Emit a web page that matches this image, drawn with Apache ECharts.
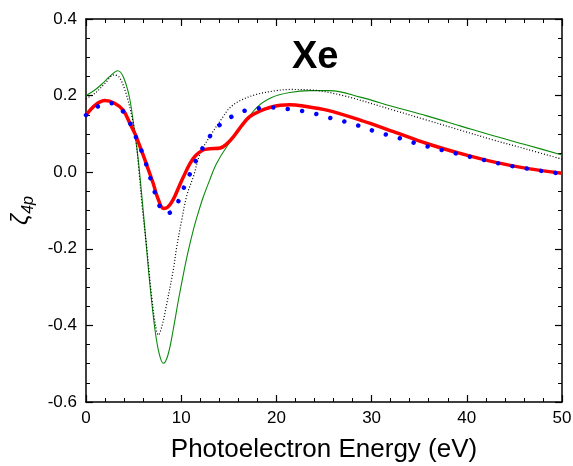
<!DOCTYPE html>
<html>
<head>
<meta charset="utf-8">
<script src="https://cdn.jsdelivr.net/npm/echarts@6/dist/echarts.min.js"></script>
<style>
  html, body { margin: 0; padding: 0; background: #fff; }
  #chart { width: 573px; height: 466px; }
</style>
</head>
<body>
<div id="chart"></div>
<script>
// Photoelectron energy grid (eV) and zeta_4p values for each calculation
const thinGreenE = [0, 1.0, 1.75, 2.5, 3.33, 3.9, 4.55, 5.08, 5.5, 6.1, 6.7, 7.25, 7.7, 8.12, 8.6, 9.17, 9.7, 10.2, 10.7, 11.27, 11.8, 12.3, 13.0, 13.7, 14.8, 16.2, 17.9, 19.5, 21.4, 23.5, 25.6, 28.8, 32.3, 35.8, 39.3, 42.8, 46.3, 50];
const thinGreenZ = [0.200, 0.216, 0.232, 0.250, 0.265, 0.250, 0.197, 0.110, 0.030, -0.125, -0.290, -0.412, -0.475, -0.499, -0.478, -0.410, -0.335, -0.270, -0.210, -0.151, -0.105, -0.066, -0.020, 0.022, 0.067, 0.112, 0.168, 0.195, 0.208, 0.213, 0.213, 0.196, 0.171, 0.147, 0.121, 0.095, 0.071, 0.045];

const dotBlackE = [0, 1.0, 2.0, 2.97, 3.5, 4.2, 4.9, 5.25, 5.5, 5.9, 6.37, 6.9, 7.3, 7.6, 8.0, 8.47, 9.17, 9.5, 10.05, 10.6, 11.3, 12.0, 13.0, 14.4, 15.1, 16.2, 17.9, 20.0, 21.4, 23.5, 27.0, 32.3, 35.8, 39.3, 42.8, 46.3, 50];
const dotBlackZ = [0.192, 0.207, 0.232, 0.254, 0.248, 0.206, 0.136, 0.084, 0.020, -0.090, -0.195, -0.325, -0.400, -0.425, -0.400, -0.345, -0.255, -0.200, -0.125, -0.060, -0.010, 0.049, 0.093, 0.145, 0.168, 0.187, 0.203, 0.213, 0.216, 0.215, 0.200, 0.162, 0.136, 0.110, 0.084, 0.060, 0.034];

const thickRedE = [0, 1.0, 2.0, 3.0, 3.9, 4.6, 5.15, 6.0, 6.5, 7.07, 7.5, 8.15, 8.6, 9.17, 9.87, 10.2, 10.9, 11.5, 12.3, 13.0, 14.1, 14.7, 15.5, 16.3, 17.2, 18.3, 19.3, 20.4, 21.4, 23.0, 25.3, 28.8, 32.3, 35.8, 39.3, 42.8, 46.3, 50];
const thickRedZ = [0.149, 0.176, 0.187, 0.180, 0.162, 0.128, 0.100, 0.045, 0.010, -0.030, -0.065, -0.095, -0.091, -0.071, -0.032, -0.014, 0.022, 0.043, 0.058, 0.061, 0.063, 0.072, 0.093, 0.120, 0.145, 0.160, 0.169, 0.175, 0.176, 0.172, 0.162, 0.136, 0.106, 0.075, 0.049, 0.027, 0.010, -0.003];

const blueDotE = [0, 1.5, 2.8, 4.0, 4.8, 5.5, 6.0, 6.5, 7.0, 7.6, 8.1, 8.6, 9.45, 10.1, 10.75, 11.4, 12.2, 13.2, 14.3, 15.3, 16.6, 18.1, 19.7, 21.2, 22.7, 24.2, 25.6, 27.2, 28.7, 30.2, 31.7, 33.2, 34.7, 36.2, 37.7, 39.2, 40.7, 42.3, 43.7, 45.2, 46.7, 48.2, 50];
const blueDotZ = [0.149, 0.175, 0.180, 0.155, 0.119, 0.075, 0.045, 0.006, -0.035, -0.080, -0.105, -0.107, -0.088, -0.051, -0.014, 0.023, 0.061, 0.100, 0.129, 0.145, 0.160, 0.167, 0.169, 0.165, 0.160, 0.152, 0.142, 0.132, 0.121, 0.108, 0.097, 0.087, 0.075, 0.065, 0.056, 0.047, 0.038, 0.029, 0.021, 0.014, 0.008, 0.002, -0.004];

const xTicks = { min: 0, max: 50, step: 10, minorSplit: 5 };
const yTicks = { min: -0.6, max: 0.4, step: 0.2, minorSplit: 4 };

const pairs = (xs, ys) => xs.map((x, i) => [x, ys[i]]);

const FONT = 'Liberation Sans, Arial, sans-serif';

function frameAxis(base, withLabels) {
  return Object.assign({
    type: 'value',
    axisLine: { show: true, onZero: false, lineStyle: { color: '#000', width: 1.5 } },
    axisTick: { show: true, inside: true, length: 7, lineStyle: { color: '#000', width: 1.2 } },
    minorTick: { show: true, length: 4, lineStyle: { color: '#000', width: 1 } },
    splitLine: { show: false },
    axisLabel: withLabels
      ? { show: true, color: '#000', fontFamily: FONT, fontSize: 17 }
      : { show: false }
  }, base);
}

const chart = echarts.init(document.getElementById('chart'), null, { renderer: 'canvas' });

chart.setOption({
  animation: false,
  backgroundColor: '#fff',
  grid: { left: 86, right: 11, top: 19, bottom: 64, containLabel: false, outerBoundsMode: 'none' },
  title: {
    text: 'Xe',
    left: 287, top: 34,
    textStyle: { fontFamily: FONT, fontWeight: 'bold', fontSize: 38, color: '#000' }
  },
  xAxis: [
    frameAxis({
      position: 'bottom', min: xTicks.min, max: xTicks.max, interval: xTicks.step,
      minorTick: { show: true, splitNumber: xTicks.minorSplit, length: 4, lineStyle: { color: '#000', width: 1 } },
      name: 'Photoelectron Energy (eV)', nameLocation: 'middle', nameGap: 35,
      nameTextStyle: { fontFamily: FONT, fontSize: 26, color: '#000' }
    }, true),
    frameAxis({
      position: 'top', min: xTicks.min, max: xTicks.max, interval: xTicks.step,
      minorTick: { show: true, splitNumber: xTicks.minorSplit, length: 4, lineStyle: { color: '#000', width: 1 } }
    }, false)
  ],
  yAxis: [
    frameAxis({
      position: 'left', min: yTicks.min, max: yTicks.max, interval: yTicks.step,
      minorTick: { show: true, splitNumber: yTicks.minorSplit, length: 4, lineStyle: { color: '#000', width: 1 } },
      axisLabel: {
        show: true, color: '#000', fontFamily: FONT, fontSize: 17, margin: 9,
        formatter: v => (Math.abs(v) < 1e-9 ? 0 : v).toFixed(1)
      },
      name: '{z|ζ}{s|4p}', nameLocation: 'middle', nameGap: 48, nameRotate: 90,
      nameTextStyle: {
        rich: {
          z: { fontFamily: FONT, fontStyle: 'italic', fontSize: 24, lineHeight: 30, color: '#000', verticalAlign: 'middle' },
          s: { fontFamily: FONT, fontStyle: 'italic', fontSize: 16, lineHeight: 16, color: '#000', verticalAlign: 'bottom' }
        }
      }
    }, true),
    frameAxis({
      position: 'right', min: yTicks.min, max: yTicks.max, interval: yTicks.step,
      minorTick: { show: true, splitNumber: yTicks.minorSplit, length: 4, lineStyle: { color: '#000', width: 1 } }
    }, false)
  ],
  series: [
    {
      type: 'line', xAxisIndex: 0, yAxisIndex: 0, data: pairs(thinGreenE, thinGreenZ),
      smooth: 0.35, showSymbol: false, symbol: 'none', silent: true,
      lineStyle: { color: '#0a8a0a', width: 1.1 }
    },
    {
      type: 'line', xAxisIndex: 0, yAxisIndex: 0, data: pairs(dotBlackE, dotBlackZ),
      smooth: 0.35, showSymbol: false, symbol: 'none', silent: true,
      lineStyle: { color: '#000', width: 1.2, type: [1, 2] }
    },
    {
      type: 'line', xAxisIndex: 0, yAxisIndex: 0, data: pairs(thickRedE, thickRedZ),
      smooth: 0.35, showSymbol: false, symbol: 'none', silent: true,
      lineStyle: { color: '#ff0000', width: 3.5 }
    },
    {
      type: 'line', xAxisIndex: 0, yAxisIndex: 0, data: pairs(blueDotE, blueDotZ),
      smooth: 0.35, showSymbol: false, symbol: 'none', silent: true,
      lineStyle: { color: '#0000ff', width: 4.5, type: [0.01, 14.5], cap: 'round' }
    }
  ]
});
</script>
</body>
</html>
